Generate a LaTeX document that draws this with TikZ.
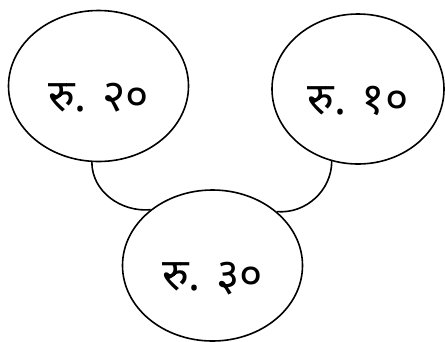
\documentclass[tikz,border=0pt]{standalone}
\usepackage{fontspec}
\newfontfamily\devfont[Script=Devanagari]{Noto Sans}
\usepackage{tikz}
\usetikzlibrary{shapes.geometric}

\begin{document}
\begin{tikzpicture}[x=1bp,y=-1bp,line width=1.6bp,
    amount/.style={draw,ellipse,inner sep=0pt,minimum width=180bp,
      minimum height=151bp,text height=50bp,text depth=0bp,
      font=\devfont\fontsize{45}{50}\selectfont}]
  \useasboundingbox (0,0) rectangle (445,341);
  \node[amount] (twenty) at (98.5,86) {रु. २०};
  \node[amount,minimum width=172bp,minimum height=150bp] (ten) at (358,89) {रु. १०};
  \node[amount] (thirty) at (212.5,265.5) {रु. ३०};
  % joins into the sum
  \draw (twenty.-95) to[out=-90,in=185] (thirty.138);
  \draw (ten.-110) to[out=-90,in=-5] (thirty.40);
\end{tikzpicture}
\end{document}
